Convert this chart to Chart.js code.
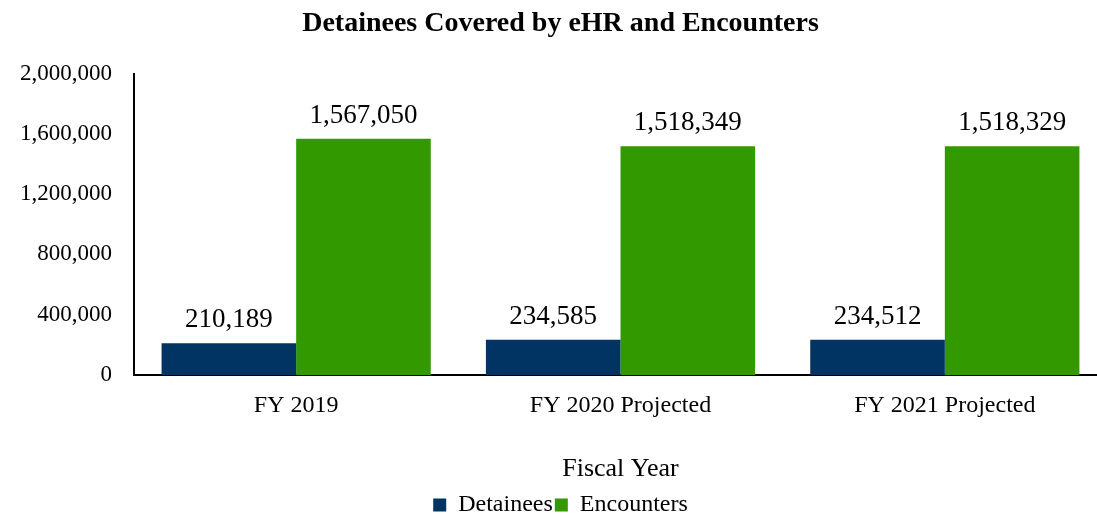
<!DOCTYPE html>
<html>
<head>
<meta charset="utf-8">
<script src="https://cdn.jsdelivr.net/npm/chart.js@4/dist/chart.umd.min.js"></script>
<style>
  html, body { margin: 0; padding: 0; background: #fff; overflow: hidden; }
  #wrap { position: relative; width: 1110px; height: 515px; }
</style>
</head>
<body>
<div id="wrap"><canvas id="chart"></canvas></div>
<script>
const categories = ["FY 2019", "FY 2020 Projected", "FY 2021 Projected"];
const detainees = [210189, 234585, 234512];
const encounters = [1567050, 1518349, 1518329];
const yTicks = [0, 400000, 800000, 1200000, 1600000, 2000000];

const SERIF = "'Liberation Serif', 'Times New Roman', serif";
const fmt = (v) => v.toLocaleString("en-US");

// draws the value above each bar
const barLabels = {
  id: "barLabels",
  afterDatasetsDraw(chart) {
    const ctx = chart.ctx;
    ctx.save();
    ctx.font = "27px " + SERIF;
    ctx.fillStyle = "#000";
    ctx.textAlign = "center";
    ctx.textBaseline = "alphabetic";
    chart.data.datasets.forEach((ds, i) => {
      chart.getDatasetMeta(i).data.forEach((bar, j) => {
        ctx.fillText(fmt(ds.data[j]), bar.x, bar.y - 16);
      });
    });
    ctx.restore();
  }
};

new Chart(document.getElementById("chart"), {
  type: "bar",
  data: {
    labels: categories,
    datasets: [
      { label: "Detainees", data: detainees, backgroundColor: "#013462" },
      { label: "Encounters", data: encounters, backgroundColor: "#339900" }
    ]
  },
  options: {
    responsive: true,
    maintainAspectRatio: false,
    animation: false,
    layout: { padding: { left: 14, right: 3, top: 4, bottom: -12 } },
    datasets: { bar: { categoryPercentage: 0.83, barPercentage: 1.0 } },
    plugins: {
      title: {
        display: true,
        text: "Detainees Covered by eHR and Encounters",
        color: "#000",
        font: { family: SERIF, size: 28, weight: "bold" },
        padding: { top: 3, bottom: 33 }
      },
      legend: {
        position: "bottom",
        labels: {
          color: "#000",
          font: { family: SERIF, size: 24 },
          boxWidth: 13,
          boxHeight: 13,
          padding: 2
        }
      },
      tooltip: { enabled: false }
    },
    scales: {
      x: {
        grid: { display: false },
        border: { color: "#000", width: 2 },
        ticks: { color: "#000", font: { family: SERIF, size: 24 }, padding: 8 },
        title: {
          display: true,
          text: "Fiscal Year",
          color: "#000",
          font: { family: SERIF, size: 26 },
          padding: { top: 26, bottom: 6 }
        }
      },
      y: {
        min: 0,
        max: 2000000,
        grid: { display: false, drawTicks: false },
        border: { color: "#000", width: 2 },
        afterBuildTicks: (axis) => { axis.ticks = yTicks.map((v) => ({ value: v })); },
        afterFit: (axis) => { axis.width = 120; },
        ticks: {
          color: "#000",
          font: { family: SERIF, size: 23 },
          padding: 22,
          callback: (v) => fmt(v)
        }
      }
    }
  },
  plugins: [barLabels]
});
</script>
</body>
</html>
